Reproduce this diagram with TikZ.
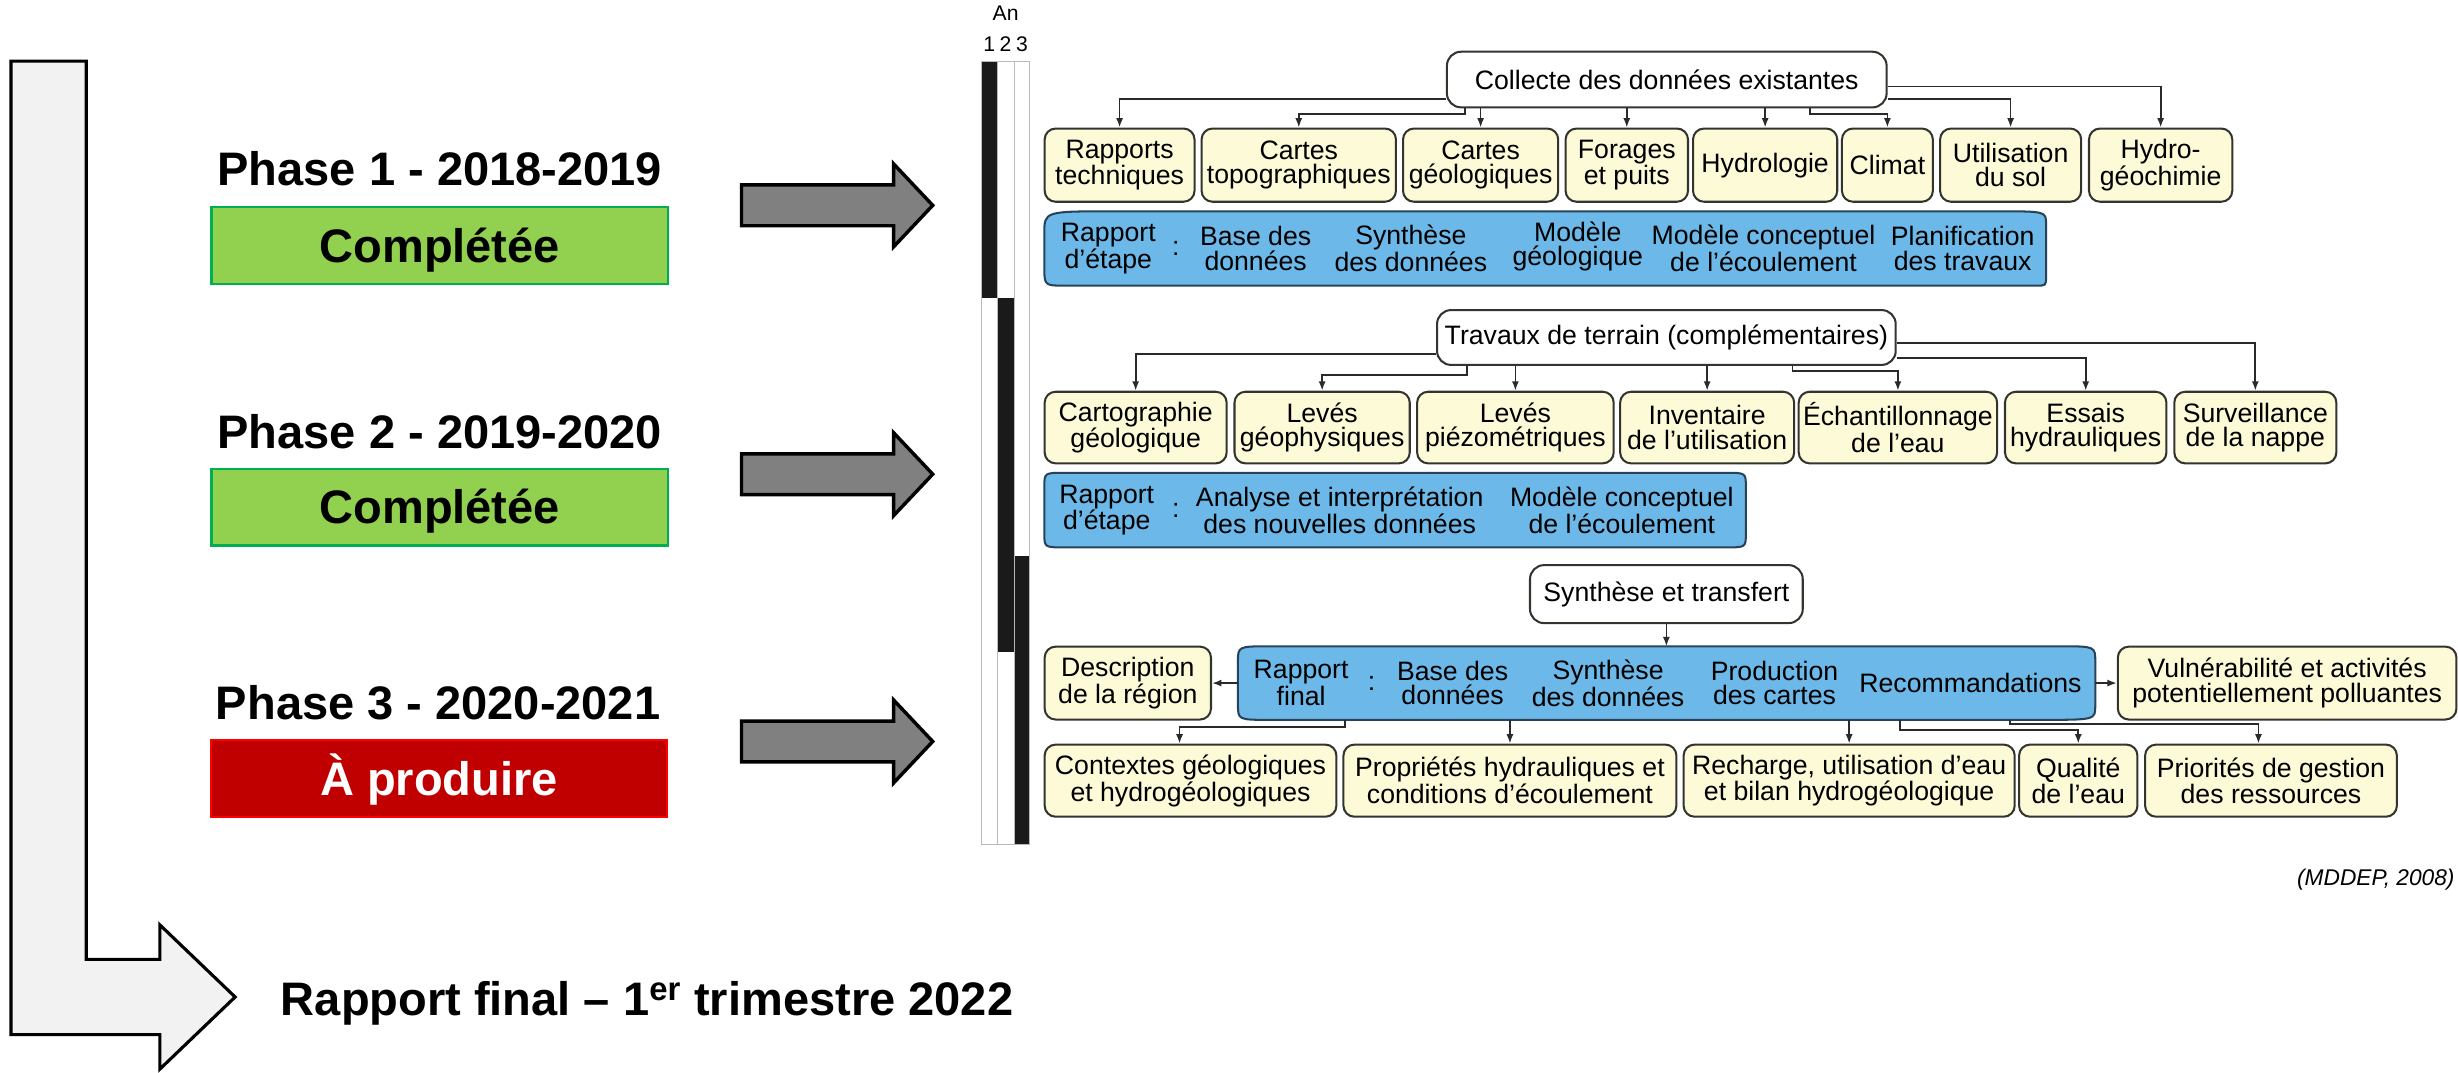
\documentclass[tikz,border=0pt]{standalone}
\usepackage{fontspec}
\setmainfont{Liberation Sans}
\usetikzlibrary{arrows.meta,calc}

\definecolor{cream}{HTML}{FCFAD7}
\definecolor{boxline}{HTML}{34342F}
\definecolor{skyblue}{HTML}{6CB9E9}
\definecolor{blueline}{HTML}{27435A}
\definecolor{donegreen}{HTML}{92D050}
\definecolor{doneedge}{HTML}{00B050}
\definecolor{todored}{HTML}{C00000}
\definecolor{todoedge}{HTML}{FF0000}
\definecolor{arrowgray}{HTML}{808080}
\definecolor{railgray}{HTML}{F2F2F2}
\definecolor{barblack}{HTML}{1A1A1A}
\definecolor{connline}{HTML}{2A2A2A}

\newcommand\chartfont{\fontsize{17}{15.5}\selectfont}
\newcommand\phasefont{\bfseries\fontsize{30}{34}\selectfont}

% Blue report band: a box whose four corners are rounded with their own
% horizontal/vertical extents (tl, tr, br, bl).
\newcommand\blueshape[9]{%
  \path[bluefill] ($(#1.north west)+(#2,0)$) -- ($(#1.north east)+(-#4,0)$)
    .. controls (#1.north east) .. ($(#1.north east)+(0,#5)$)
    -- ($(#1.south east)+(0,-#7)$)
    .. controls (#1.south east) .. ($(#1.south east)+(-#6,0)$)
    -- ($(#1.south west)+(#8,0)$)
    .. controls (#1.south west) .. ($(#1.south west)+(0,-#9)$)
    -- ($(#1.north west)+(0,#3)$)
    .. controls (#1.north west) .. ($(#1.north west)+(#2,0)$) -- cycle;}

\begin{document}
\begin{tikzpicture}[x=1pt,y=-1pt,
  ybox/.style={draw=boxline, fill=cream, line width=1.3pt, rounded corners=7pt,
    inner sep=0pt, align=center, font=\chartfont},
  tbox/.style={draw=boxline, fill=white, line width=1.3pt, rounded corners=9pt,
    inner sep=0pt, align=center, font=\chartfont},
  btxt/.style={inner sep=0pt, align=center, font=\chartfont},
  colon/.style={inner sep=0pt, font=\chartfont},
  bholder/.style={inner sep=0pt, draw=none},
  bluefill/.style={fill=skyblue, draw=blueline, line width=1.3pt},
  conn/.style={line width=1.1pt, draw=connline, -{Latex[length=6pt,width=4.5pt]}},
  status/.style={minimum width=291pt, minimum height=49pt, inner sep=0pt,
    text height=21.5pt, text depth=0pt, font=\phasefont},
  phaselbl/.style={font=\phasefont, inner sep=0pt, anchor=base},
  blockarrow/.style={fill=arrowgray, draw=black, line width=2.2pt, line join=miter},
  yearlbl/.style={font=\fontsize{13.5}{15}\selectfont, inner sep=0pt, anchor=base}
]
\useasboundingbox (0,0) rectangle (1568,684);

% ---------- overall timeline arrow ----------
\draw[fill=railgray, line width=2pt, line join=miter]
  (7,39) -- (55,39) -- (55,612) -- (102,612) -- (102,590) -- (150,636)
  -- (102,682) -- (102,660) -- (7,660) -- cycle;

% ---------- phases ----------
\node[phaselbl] (p1) at (280.5,118.5) {Phase 1 - 2018-2019};
\node[status, fill=donegreen, draw=doneedge, line width=1.5pt] (s1) at (280.5,156.5) {Complétée};
\node[phaselbl] (p2) at (280.5,286) {Phase 2 - 2019-2020};
\node[status, fill=donegreen, draw=doneedge, line width=1.5pt] (s2) at (280.5,323.5) {Complétée};
\node[phaselbl] (p3) at (279.5,459) {Phase 3 - 2020-2021};
\node[status, fill=todored, draw=todoedge, line width=1pt, text=white] (s3) at (280,496.5) {À produire};

\node[font=\phasefont, inner sep=0pt, anchor=base west] (fin) at (179,647.5)
  {Rapport final – 1\textsuperscript{er} trimestre 2022};

% ---------- block arrows towards the chart ----------
\foreach \cy in {131,302.5,473}{
  \draw[blockarrow] (473,\cy-13) -- (570,\cy-13) -- (570,\cy-26.5) -- (595,\cy)
    -- (570,\cy+26.5) -- (570,\cy+13) -- (473,\cy+13) -- cycle;
}

% ---------- year bar ----------
\fill[barblack] (626,39) rectangle (636,190);
\fill[barblack] (636,190) rectangle (647,416);
\fill[barblack] (647,355) rectangle (657,539);
\draw[gray!55, line width=0.6pt] (626,39) rectangle (657,539)
  (636,39) -- (636,539) (647,39) -- (647,539);
\node[yearlbl] (an) at (641.5,12.8) {An};
\node[yearlbl] (y1) at (631,33) {1};
\node[yearlbl] (y2) at (641.5,33) {2};
\node[yearlbl] (y3) at (652,33) {3};

% ---------- step 1: data collection ----------
\node[tbox, minimum width=280.5pt, minimum height=35.5pt] (col) at (1063.25,50.75)
  {Collecte des données existantes};

\node[ybox, minimum width=95.6pt, minimum height=46.7pt] (rt) at (714.2,105.35) {Rapports\\techniques};
\node[ybox, minimum width=124pt,  minimum height=46.7pt] (ct) at (828.5,105.35) {Cartes\\topographiques};
\node[ybox, minimum width=99pt,   minimum height=46.7pt] (cg) at (944.5,105.35) {Cartes\\géologiques};
\node[ybox, minimum width=78.1pt, minimum height=46.7pt] (fp) at (1037.75,105.35) {Forages\\et puits};
\node[ybox, minimum width=92pt,   minimum height=46.7pt] (hy) at (1126,105.35) {Hydrologie};
\node[ybox, minimum width=58pt,   minimum height=46.7pt] (cl) at (1204,105.35) {Climat};
\node[ybox, minimum width=90pt,   minimum height=46.7pt] (us) at (1282.6,105.35) {Utilisation\\du sol};
\node[ybox, minimum width=91.4pt, minimum height=46.7pt] (hg) at (1378.3,105.35) {Hydro-\\géochimie};

\draw[conn] ([yshift=-12.25pt]col.west) -| (rt.north);
\draw[conn] ([xshift=12pt]col.south west) -- ++(0,3.8) -| (ct.north);
\draw[conn] (col.south -| cg.north) -- (cg.north);
\draw[conn] (col.south -| fp.north) -- (fp.north);
\draw[conn] (col.south -| hy.north) -- (hy.north);
\draw[conn] ([xshift=-49.5pt]col.south east) -- ++(0,3.5) -| (cl.north);
\draw[conn] ([yshift=-12.25pt]col.east) -| (us.north);
\draw[conn] ([yshift=-4.5pt]col.east) -| (hg.north);

\node[bholder, minimum width=638.6pt, minimum height=47pt] (b1) at (985.7,158.5) {};
\blueshape{b1}{44}{14}{32}{8}{6}{6}{13}{12}
\node[btxt] (b1r) at (707,158.5) {Rapport\\d’étape};
\node[colon] (b1c) at (750,158.5) {:};
\node[btxt] (b1a) at (801,158.5) {Base des\\données};
\node[btxt] (b1b) at (900,158.5) {Synthèse\\des données};
\node[btxt] (b1d) at (1006.5,157) {Modèle\\géologique};
\node[btxt] (b1e) at (1125,158.5) {Modèle conceptuel\\de l’écoulement};
\node[btxt] (b1f) at (1252,158.5) {Planification\\des travaux};

% ---------- step 2: field work ----------
\node[tbox, minimum width=292.6pt, minimum height=35pt] (tra) at (1063,215.3)
  {Travaux de terrain (complémentaires)};

\node[ybox, minimum width=116.1pt, minimum height=45.7pt] (cgeo) at (724.45,272.75) {Cartographie\\géologique};
\node[ybox, minimum width=111.8pt, minimum height=45.7pt] (lgeo) at (843.4,272.75) {Levés\\géophysiques};
\node[ybox, minimum width=125.4pt, minimum height=45.7pt] (lpie) at (966.7,272.75) {Levés\\piézométriques};
\node[ybox, minimum width=111pt,   minimum height=45.7pt] (inv)  at (1089,272.75) {Inventaire\\de l’utilisation};
\node[ybox, minimum width=126.6pt, minimum height=45.7pt] (ech)  at (1210.7,272.75) {Échantillonnage\\de l’eau};
\node[ybox, minimum width=103pt,   minimum height=45.7pt] (ess)  at (1330.5,272.75) {Essais\\hydrauliques};
\node[ybox, minimum width=103.4pt, minimum height=45.7pt] (sur)  at (1438.7,272.75) {Surveillance\\de la nappe};

\draw[conn] ([yshift=-10.7pt]tra.west) -| (cgeo.north);
\draw[conn] ([xshift=19.9pt]tra.south west) -- ++(0,5.8) -| (lgeo.north);
\draw[conn] (tra.south -| lpie.north) -- (lpie.north);
\draw[conn] (tra.south -| inv.north) -- (inv.north);
\draw[conn] ([xshift=-66.5pt]tra.south east) -- ++(0,3.2) -| (ech.north);
\draw[conn] ([yshift=-13.2pt]tra.east) -| (ess.north);
\draw[conn] ([yshift=-3.7pt]tra.east) -| (sur.north);

\node[bholder, minimum width=447.1pt, minimum height=47.2pt] (b2) at (889.95,325.4) {};
\blueshape{b2}{13}{9}{13}{9}{13}{9}{13}{9}
\node[btxt] (b2r) at (706,325.4) {Rapport\\d’étape};
\node[colon] (b2c) at (750,325.4) {:};
\node[btxt] (b2a) at (854.6,325.4) {Analyse et interprétation\\des nouvelles données};
\node[btxt] (b2b) at (1034.6,325.4) {Modèle conceptuel\\de l’écoulement};

% ---------- step 3: synthesis ----------
\node[tbox, minimum width=174pt, minimum height=37pt] (syn) at (1063,379) {Synthèse et transfert};

\node[bholder, minimum width=546.5pt, minimum height=46.5pt] (b3) at (1063.15,435.75) {};
\blueshape{b3}{20}{10}{22}{10}{34}{9}{20}{10}
\node[btxt] (b3r) at (830,435.75) {Rapport\\final};
\node[colon] (b3c) at (875,435.75) {:};
\node[btxt] (b3a) at (926.6,435.75) {Base des\\données};
\node[btxt] (b3b) at (1025.8,435.75) {Synthèse\\des données};
\node[btxt] (b3d) at (1132,435.75) {Production\\des cartes};
\node[btxt] (b3e) at (1257,435.75) {Recommandations};

\node[ybox, minimum width=106.1pt, minimum height=46.5pt] (desc) at (719.45,435.75) {Description\\de la région};
\node[ybox, minimum width=216pt,   minimum height=46.5pt] (vul)  at (1459,435.75) {Vulnérabilité et activités\\potentiellement polluantes};

\node[ybox, minimum width=186.1pt, minimum height=46pt] (ctx)  at (759.45,498) {Contextes géologiques\\et hydrogéologiques};
\node[ybox, minimum width=212.4pt, minimum height=46pt] (prop) at (963.2,498) {Propriétés hydrauliques et\\conditions d’écoulement};
\node[ybox, minimum width=211.2pt, minimum height=46pt] (rech) at (1179.6,498) {Recharge, utilisation d’eau\\et bilan hydrogéologique};
\node[ybox, minimum width=75.5pt,  minimum height=46pt] (qual) at (1325.75,498) {Qualité\\de l’eau};
\node[ybox, minimum width=160.6pt, minimum height=46pt] (prio) at (1448.7,498) {Priorités de gestion\\des ressources};

\draw[conn] (syn.south) -- (syn.south |- b3.north);
\draw[conn] (b3.west) -- (desc.east);
\draw[conn] (b3.east) -- (vul.west);
\draw[conn] ([xshift=68.1pt]b3.south west) -- ++(0,4.6) -| ([xshift=-7pt]ctx.north);
\draw[conn] (b3.south -| prop.north) -- (prop.north);
\draw[conn] (b3.south -| rech.north) -- (rech.north);
\draw[conn] ([xshift=-124.4pt]b3.south east) -- ++(0,6.7) -| (qual.north);
\draw[conn] ([xshift=-54.4pt]b3.south east) -- ++(0,2.6) -| ([xshift=-8pt]prio.north);

\node[font=\itshape\fontsize{14.5}{16}\selectfont, inner sep=0pt, anchor=base east] (src)
  at (1566,565) {(MDDEP, 2008)};
\end{tikzpicture}
\end{document}
